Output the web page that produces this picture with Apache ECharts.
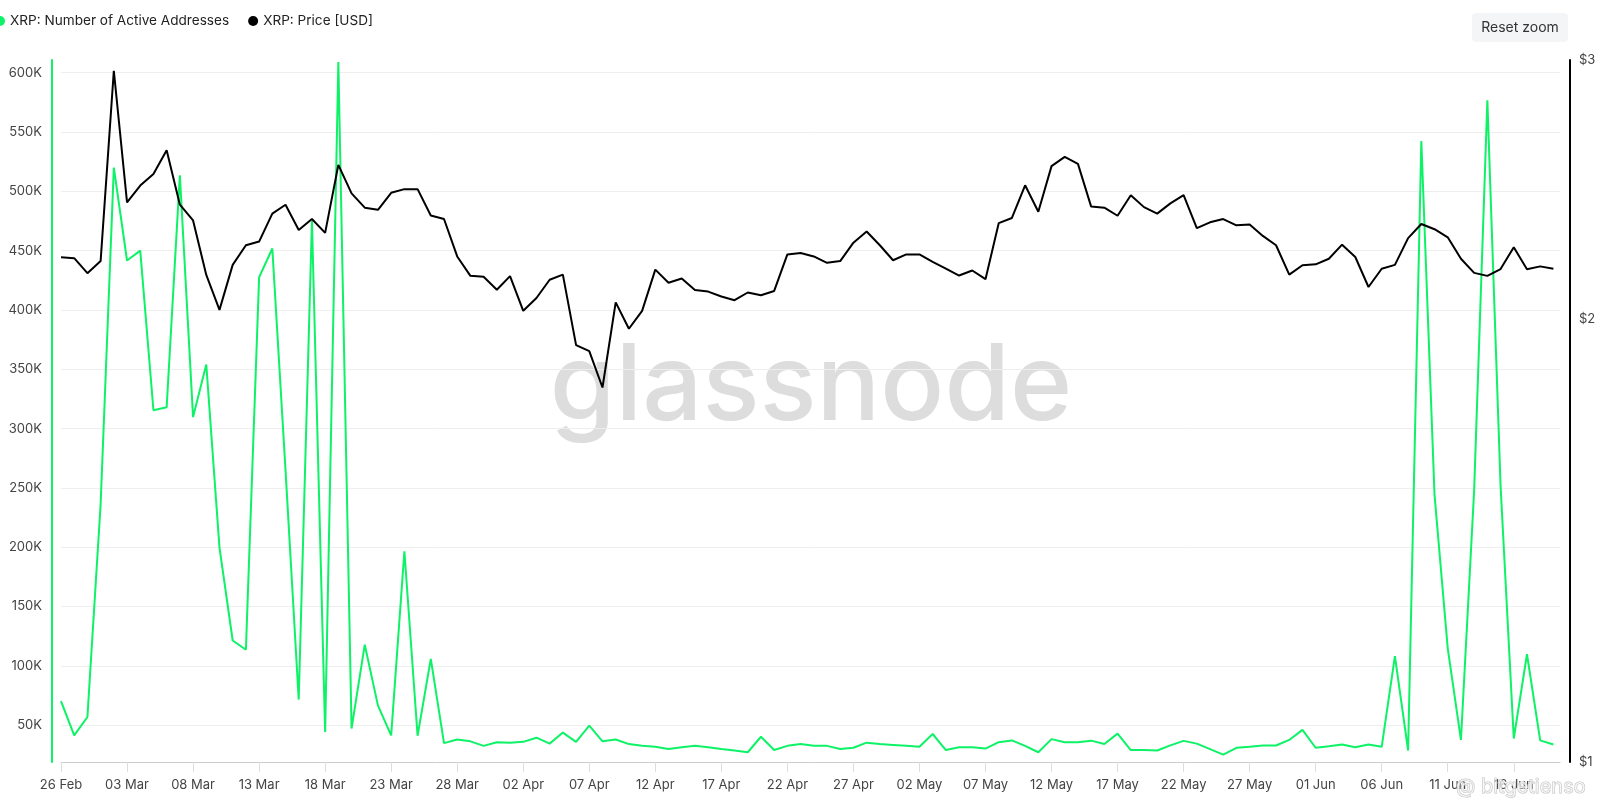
<!DOCTYPE html>
<html>
<head>
<meta charset="utf-8">
<script src="https://cdn.jsdelivr.net/npm/echarts@6/dist/echarts.min.js"></script>
<style>html,body{margin:0;padding:0;background:#fff}#c{width:1600px;height:808px}</style>
</head>
<body>
<div id="c"></div>
<script>
// ---- categories (daily, 26 Feb 2025 .. 19 Jun 2025) ----
const startDate = [2025, 1, 26];
const dayCount = 114;
const monthNames = ['Jan','Feb','Mar','Apr','May','Jun','Jul','Aug','Sep','Oct','Nov','Dec'];
const dates = [];
for (let i = 0; i < dayCount; i++) {
  const d = new Date(Date.UTC(startDate[0], startDate[1], startDate[2] + i));
  dates.push(String(d.getUTCDate()).padStart(2, '0') + ' ' + monthNames[d.getUTCMonth()]);
}

// ---- series values ----
const activeAddresses = [
  70400, 41500, 56900, 236000, 520000, 441700, 450000, 315500, 318000, 513500,
  309700, 354000, 199700, 121400, 113600, 427500, 451800, 265000, 71600, 475000,
  44200, 609000, 47200, 117900, 66500, 41500, 196600, 41100, 105900, 34900,
  38000, 36400, 32600, 35700, 35300, 36000, 39500, 34500, 43800, 36000,
  49600, 36400, 38000, 34100, 32600, 31800, 29900, 31400, 32600, 31400,
  29900, 28700, 27200, 40300, 29100, 32600, 34100, 32600, 32600, 29900,
  31000, 35300, 34100, 33400, 32600, 31800, 42600, 29100, 31400, 31400,
  30300, 35700, 37200, 32600, 27200, 38300, 35600, 35700, 37000, 34100,
  42900, 29100, 29100, 28700, 33000, 36800, 34500, 29900, 25200, 31000,
  31800, 32900, 32900, 37600, 46100, 31000, 32200, 33700, 31400, 33700,
  31800, 108200, 28700, 542500, 244100, 114800, 37600, 248000, 576800, 251800,
  38800, 109800, 37200, 33700
];
const priceUsd = [
  2.203, 2.200, 2.149, 2.190, 2.950, 2.401, 2.465, 2.510, 2.605, 2.392,
  2.334, 2.143, 2.029, 2.177, 2.245, 2.258, 2.359, 2.392, 2.299, 2.339,
  2.289, 2.546, 2.435, 2.381, 2.373, 2.437, 2.451, 2.451, 2.352, 2.339,
  2.206, 2.140, 2.137, 2.094, 2.139, 2.026, 2.067, 2.127, 2.144, 1.920,
  1.902, 1.797, 2.053, 1.970, 2.026, 2.161, 2.117, 2.131, 2.093, 2.088,
  2.072, 2.060, 2.085, 2.076, 2.090, 2.213, 2.218, 2.206, 2.184, 2.190,
  2.254, 2.294, 2.245, 2.193, 2.213, 2.213, 2.187, 2.164, 2.141, 2.158,
  2.129, 2.324, 2.343, 2.466, 2.366, 2.541, 2.578, 2.550, 2.385, 2.381,
  2.351, 2.428, 2.383, 2.359, 2.397, 2.428, 2.306, 2.327, 2.339, 2.316,
  2.319, 2.278, 2.245, 2.144, 2.176, 2.179, 2.198, 2.247, 2.204, 2.103,
  2.164, 2.177, 2.270, 2.321, 2.302, 2.273, 2.198, 2.150, 2.140, 2.163,
  2.238, 2.162, 2.172, 2.164
];

// ---- tick labels ----
const xTickIndex = [0,5,10,15,20,25,30,35,40,45,50,55,60,65,70,75,80,85,90,95,100,105,110];
const leftTicks = [50000,100000,150000,200000,250000,300000,350000,400000,450000,500000,550000,600000];
const rightTicks = [1, 2, 3];

const GREEN = '#0df266';
const FONT = 'Inter, "Noto Sans", sans-serif';

const chart = echarts.init(document.getElementById('c'), null, {renderer: 'canvas'});
chart.setOption({
  animation: false,
  backgroundColor: '#ffffff',
  legend: {
    left: -10, top: 9,
    icon: 'circle', itemWidth: 10, itemHeight: 10, itemGap: 19,
    textStyle: {fontFamily: FONT, fontSize: 13.6, color: '#222'},
    data: ['XRP: Number of Active Addresses', 'XRP: Price [USD]']
  },
  grid: {left: 61, right: 40, top: 60, bottom: 46, containLabel: false},
  xAxis: {
    type: 'value', min: 0, max: 113.5, interval: 5,
    axisLine: {show: true, onZero: false, lineStyle: {color: '#cccccc', width: 1}},
    axisTick: {show: true, length: 10, customValues: xTickIndex, lineStyle: {color: '#dddddd'}},
    axisLabel: {
      customValues: xTickIndex, margin: 17, color: '#444', fontSize: 13, fontFamily: FONT,
      formatter: v => dates[v] || ''
    },
    splitLine: {show: false}
  },
  yAxis: [
    {
      type: 'value', position: 'left', min: 19000, max: 610700, splitNumber: 12, offset: 9,
      axisLine: {show: true, onZero: false, lineStyle: {color: GREEN, width: 2}},
      axisTick: {show: false, customValues: leftTicks},
      axisLabel: {
        customValues: leftTicks, margin: 10, color: '#444', fontSize: 13, fontFamily: FONT,
        formatter: v => (v / 1000) + 'K'
      },
      splitLine: {show: true, lineStyle: {color: '#eeeeee', width: 1}}
    },
    {
      type: 'log', logBase: 2, position: 'right', min: 1, max: 3, offset: 10,
      axisLine: {show: true, onZero: false, lineStyle: {color: '#000', width: 2}},
      axisTick: {show: false},
      axisLabel: {
        margin: 9, color: '#444', fontSize: 13, fontFamily: FONT,
        showMinLabel: true, showMaxLabel: true,
        formatter: v => rightTicks.indexOf(Math.round(v)) >= 0 ? '$' + Math.round(v) : ''
      },
      splitLine: {show: false}
    }
  ],
  graphic: [
    {
      type: 'text', z: 0, silent: true,
      style: {
        text: 'glassnode', x: 811, y: 388, align: 'center', verticalAlign: 'middle',
        fontSize: 106, fontFamily: FONT, fontWeight: 500, fill: '#dddddd'
      }
    },
    {
      type: 'rect', z: 10, silent: true,
      shape: {x: 1472, y: 13, width: 96, height: 29, r: 4},
      style: {fill: '#f4f5f6'}
    },
    {
      type: 'text', z: 11, silent: true,
      style: {
        text: 'Reset zoom', x: 1520, y: 27.5, align: 'center', verticalAlign: 'middle',
        fontSize: 14, fontFamily: FONT, fill: '#333'
      }
    },
    {
      type: 'text', z: 20, silent: true,
      style: {
        text: '@ bitgetienso', x: 1456, y: 787, align: 'left', verticalAlign: 'middle',
        fontSize: 20, fontFamily: FONT, fill: 'rgba(255,255,255,0.6)', stroke: '#c4c4c4', lineWidth: 1
      }
    }
  ],
  series: [
    {
      name: 'XRP: Number of Active Addresses', type: 'line', yAxisIndex: 0,
      data: activeAddresses.map((v, i) => [i, v]),
      symbol: 'none', showSymbol: false, smooth: false,
      lineStyle: {color: GREEN, width: 2}, itemStyle: {color: GREEN}, z: 3
    },
    {
      name: 'XRP: Price [USD]', type: 'line', yAxisIndex: 1,
      data: priceUsd.map((v, i) => [i, v]),
      symbol: 'none', showSymbol: false, smooth: false,
      lineStyle: {color: '#000', width: 2}, itemStyle: {color: '#000'}, z: 4
    }
  ]
});
</script>
</body>
</html>
